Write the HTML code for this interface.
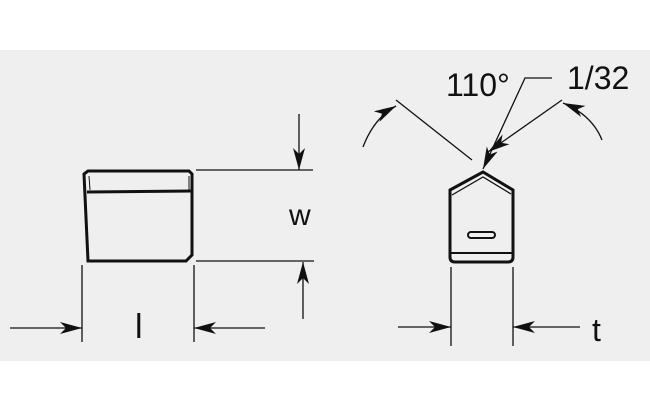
<!DOCTYPE html>
<html><head><style>body{margin:0;background:#fff}svg{display:block}</style></head><body>
<svg width="650" height="411" viewBox="0 0 650 411" xmlns="http://www.w3.org/2000/svg">
<defs><marker id="a" viewBox="0 0 22 12" refX="22" refY="6" markerWidth="22" markerHeight="12" markerUnits="userSpaceOnUse" orient="auto"><path d="M0,0 L22,6 L0,12 L6,6 Z" fill="#111"/></marker></defs>
<rect x="0" y="50" width="650" height="311" fill="#efefef"/>
<g fill="none" stroke="#111">
<path d="M84,174 L88,171 L189,171 L192,174 L192,255 L186,261 L88,261 Z" stroke-width="3"/>
<line x1="87" y1="192" x2="192" y2="191" stroke-width="3"/>
<line x1="89" y1="176" x2="90" y2="190" stroke-width="1"/>
<line x1="189" y1="176" x2="189" y2="190" stroke-width="1"/>
<g stroke-width="1.3">
<line x1="196" y1="170" x2="313" y2="170"/>
<line x1="196" y1="261" x2="314" y2="261"/>
<line x1="299" y1="114" x2="299" y2="170" marker-end="url(#a)"/>
<line x1="303" y1="319" x2="303" y2="262" marker-end="url(#a)"/>
<line x1="82" y1="265" x2="82" y2="342"/>
<line x1="194" y1="265" x2="194" y2="342"/>
<line x1="10" y1="328" x2="82" y2="328" marker-end="url(#a)"/>
<line x1="265" y1="328" x2="194" y2="328" marker-end="url(#a)"/>
<line x1="451" y1="267" x2="451" y2="346"/>
<line x1="513" y1="267" x2="513" y2="346"/>
<line x1="398" y1="327" x2="451" y2="327" marker-end="url(#a)"/>
<line x1="580" y1="327" x2="513" y2="327" marker-end="url(#a)"/>
<line x1="396" y1="100" x2="472" y2="160"/>
<line x1="562" y1="100" x2="488" y2="152" marker-end="url(#a)"/>
<polyline points="552,78 525,78 483,169" marker-end="url(#a)"/>
<path d="M363,147 Q374,118 396,106" marker-end="url(#a)"/>
<path d="M602,140 Q592,115 563,103" marker-end="url(#a)"/>
</g>
<path d="M450,190 L483,172 L513,190 L513,257 Q513,262 508,262 L455,262 Q450,262 450,257 Z" stroke-width="3"/>
<path d="M452,195 L483,177 L511,194" stroke-width="1.3"/>
<line x1="450" y1="253" x2="513" y2="253" stroke-width="2"/>
<rect x="468" y="232" width="27" height="6" rx="3" stroke-width="2"/>
</g>
<g font-family="Liberation Sans, sans-serif" fill="#111">
<text x="289" y="225" font-size="30">w</text>
<text x="135" y="338" font-size="34">l</text>
<text x="446" y="96" font-size="32">110°</text>
<text x="567" y="89" font-size="32">1/32</text>
<text x="592" y="341" font-size="32">t</text>
</g>
</svg>
</body></html>
